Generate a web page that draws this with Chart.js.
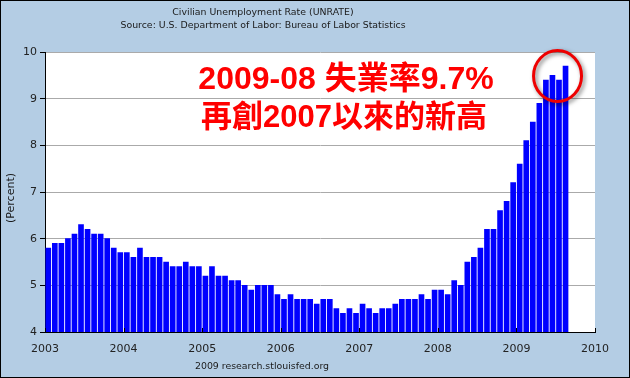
<!DOCTYPE html>
<html lang="zh-Hant">
<head>
  <meta charset="UTF-8" />
  <title>Civilian Unemployment Rate (UNRATE)</title>
  <script src="https://cdn.jsdelivr.net/npm/chart.js"></script>
  <style>
    body { margin: 0; padding: 0; background: #b4cde4; }
    canvas { display: block; }
  </style>
</head>
<body>
  <canvas id="chart" width="630" height="378"></canvas>

  <script>
    // monthly unemployment rate, Jan 2003 .. Aug 2009
    const startYear = 2003;
    const rate2003 = [5.8, 5.9, 5.9, 6.0, 6.1, 6.3, 6.2, 6.1, 6.1, 6.0, 5.8, 5.7];
    const rate2004 = [5.7, 5.6, 5.8, 5.6, 5.6, 5.6, 5.5, 5.4, 5.4, 5.5, 5.4, 5.4];
    const rate2005 = [5.2, 5.4, 5.2, 5.2, 5.1, 5.1, 5.0, 4.9, 5.0, 5.0, 5.0, 4.8];
    const rate2006 = [4.7, 4.8, 4.7, 4.7, 4.7, 4.6, 4.7, 4.7, 4.5, 4.4, 4.5, 4.4];
    const rate2007 = [4.6, 4.5, 4.4, 4.5, 4.5, 4.6, 4.7, 4.7, 4.7, 4.8, 4.7, 4.9];
    const rate2008 = [4.9, 4.8, 5.1, 5.0, 5.5, 5.6, 5.8, 6.2, 6.2, 6.6, 6.8, 7.2];
    const rate2009 = [7.6, 8.1, 8.5, 8.9, 9.4, 9.5, 9.4, 9.7];
    const rates = [rate2003, rate2004, rate2005, rate2006, rate2007, rate2008, rate2009];

    const yearTicks = [2003, 2004, 2005, 2006, 2007, 2008, 2009, 2010];
    const titleLines = ['Civilian Unemployment Rate (UNRATE)', 'Source: U.S. Department of Labor: Bureau of Labor Statistics'];
    const footer = '2009 research.stlouisfed.org';
    const note = ['2009-08 失業率9.7%', '再創2007以來的新高'];

    // each month sits in the middle of its slot on the year axis
    const points = [];
    rates.forEach((yr, y) => {
      yr.forEach((v, m) => points.push({ x: startYear + y + (m + 0.5) / 12, y: v }));
    });
    const lastPoint = points[points.length - 1];

    const textFont = '"DejaVu Sans", sans-serif';

    const decor = {
      id: 'decor',
      beforeDraw(chart) {
        const ctx = chart.ctx;
        ctx.save();
        ctx.fillStyle = '#b4cde4';
        ctx.fillRect(0, 0, chart.width, chart.height);
        const a = chart.chartArea;
        ctx.fillStyle = '#ffffff';
        ctx.fillRect(a.left, a.top, a.right - a.left, a.bottom - a.top);
        ctx.restore();
      },
      afterDraw(chart) {
        const ctx = chart.ctx;
        const a = chart.chartArea;
        const xs = chart.scales.x;
        ctx.save();

        // small inward ticks on the year axis
        ctx.strokeStyle = '#000';
        ctx.lineWidth = 1;
        yearTicks.forEach(t => {
          const px = Math.round(xs.getPixelForValue(t)) + 0.5;
          ctx.beginPath();
          ctx.moveTo(px, a.bottom);
          ctx.lineTo(px, a.bottom - 4);
          ctx.stroke();
        });

        // titles and footer
        ctx.fillStyle = '#1a1a1a';
        ctx.font = '9.4px ' + textFont;
        ctx.textAlign = 'center';
        ctx.textBaseline = 'middle';
        ctx.fillText(titleLines[0], 263, 12.5);
        ctx.fillText(titleLines[1], 263, 25.5);
        ctx.fillText(footer, 262, 367);

        // y axis title
        ctx.save();
        ctx.translate(11, 198);
        ctx.rotate(-Math.PI / 2);
        ctx.font = '11px ' + textFont;
        ctx.fillText('(Percent)', 0, 0);
        ctx.restore();

        // red annotation
        ctx.fillStyle = '#ff0000';
        ctx.font = 'bold 32px "Liberation Sans", "Noto Sans CJK TC", sans-serif';
        ctx.fillText(note[0], 346, 80);
        ctx.font = 'bold 31px "Liberation Sans", "Noto Sans CJK TC", sans-serif';
        ctx.fillText(note[1], 344, 118);

        // circle round the latest months
        const cx = xs.getPixelForValue(lastPoint.x) - 8;
        const cy = chart.scales.y.getPixelForValue(lastPoint.y) + 10;
        ctx.shadowColor = 'rgba(0,0,0,0.5)';
        ctx.shadowBlur = 4;
        ctx.shadowOffsetX = 2;
        ctx.shadowOffsetY = 2;
        ctx.strokeStyle = '#ee0000';
        ctx.lineWidth = 3;
        ctx.beginPath();
        ctx.ellipse(cx, cy, 24, 25.5, 0, 0, Math.PI * 2);
        ctx.stroke();

        // outer frame
        ctx.shadowColor = 'transparent';
        ctx.strokeStyle = '#000';
        ctx.lineWidth = 1;
        ctx.strokeRect(0.5, 0.5, chart.width - 1, chart.height - 1);
        ctx.restore();
      }
    };

    new Chart(document.getElementById('chart'), {
      type: 'bar',
      data: {
        datasets: [{
          data: points,
          backgroundColor: '#0000ff',
          borderWidth: 0,
          barThickness: 5
        }]
      },
      options: {
        responsive: false,
        animation: false,
        layout: { padding: { top: 52, right: 35, bottom: 0, left: 0 } },
        plugins: {
          legend: { display: false },
          tooltip: { enabled: false }
        },
        scales: {
          x: {
            type: 'linear',
            min: 2003,
            max: 2010,
            offset: false,
            afterFit(scale) { scale.height = 46; },
            afterBuildTicks(scale) { scale.ticks = yearTicks.map(v => ({ value: v })); },
            grid: { display: false, offset: false },
            border: { display: true, color: '#000' },
            ticks: {
              padding: 3,
              color: '#222',
              font: { family: textFont, size: 11 },
              maxRotation: 0,
              callback: v => String(v)
            }
          },
          y: {
            min: 4,
            max: 10,
            afterFit(scale) { scale.width = 45; },
            grid: { color: '#aaaaaa', tickColor: '#000', tickLength: 5 },
            border: { color: '#000' },
            ticks: {
              stepSize: 1,
              padding: 3,
              color: '#222',
              font: { family: textFont, size: 11 }
            }
          }
        }
      },
      plugins: [decor]
    });
  </script>
</body>
</html>
